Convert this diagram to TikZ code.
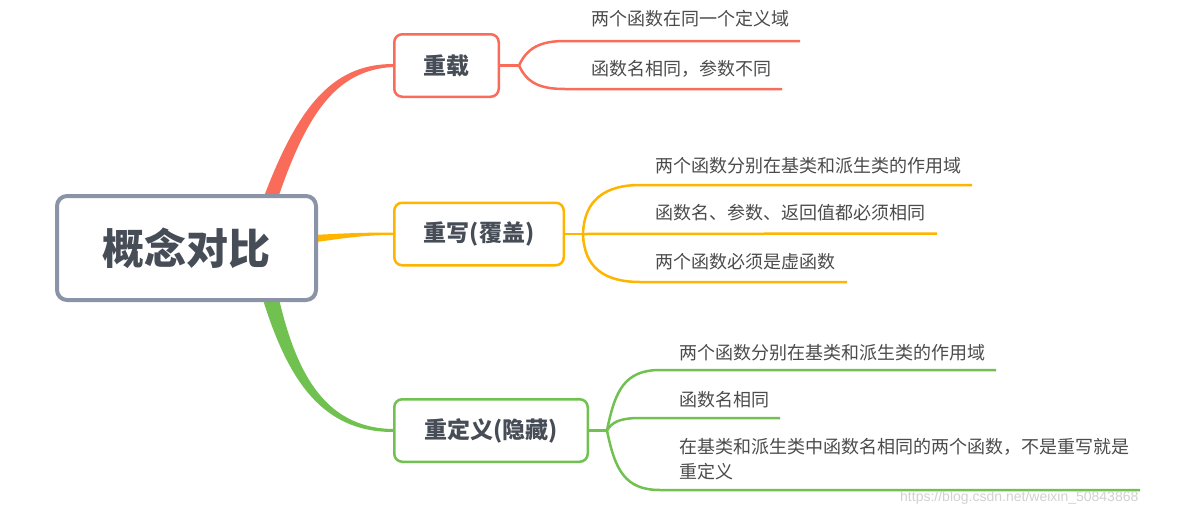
\documentclass[tikz,border=0pt]{standalone}
\usepackage{fontspec}
\setmainfont{Noto Sans CJK SC}
\newfontfamily\urlfont{Liberation Sans}
\usetikzlibrary{positioning}
\definecolor{zaired}{RGB}{250,108,90}
\definecolor{xieyellow}{RGB}{255,180,0}
\definecolor{dingreen}{RGB}{112,193,80}
\definecolor{rootgray}{RGB}{138,148,166}
\definecolor{titlegray}{RGB}{70,77,87}
\definecolor{leafgray}{RGB}{75,75,75}

\begin{document}
\begin{tikzpicture}
[x=1pt,y=-1pt,
root/.style = {draw=rootgray, line width=4pt, rounded corners=10pt, fill=white, minimum width=259pt, minimum height=104pt, text=titlegray, font=\fontsize{42}{48}\selectfont\bfseries},
topic/.style = {draw=#1, line width=2.5pt, rounded corners=8pt, fill=white, minimum height=62.5pt, text=titlegray, font=\fontsize{23}{28}\selectfont\bfseries},
leaf/.style = {anchor=base west, inner sep=0pt, align=left, text=leafgray, font=\fontsize{18}{25}\selectfont},
branch/.style = {draw=#1, line width=2.5pt},]
\useasboundingbox (0,0) rectangle (1180,517);

% main branches
\fill[zaired] (259,210) .. controls (295,110) and (330,64) .. (393,64) -- (393,67) .. controls (335,70) and (305,115) .. (274,210) -- cycle;
\fill[xieyellow] (305,235.5) .. controls (340,233.5) and (360,232.5) .. (393,232.5) -- (393,235) .. controls (360,235) and (340,239) .. (305,243.5) -- cycle;
\fill[dingreen] (260,290) .. controls (285,374) and (318,432) .. (393,432) -- (393,429) .. controls (322,428) and (294,368) .. (277,290) -- cycle;

\node (root) at (186.5,248)[root] {概念对比};
\node (zai) at (446.5,65.5)[topic=zaired, minimum width=104.5pt] {重载};
\node (xie) at (479,234)[topic=xieyellow, minimum width=169.5pt] {重写(覆盖)};
\node (ding) at (491,430.5)[topic=dingreen, minimum width=193.5pt] {重定义(隐藏)};

% 重载
\coordinate (fzai) at (519,65.5);
\node (zai1) at (591,25.5)[leaf] {两个函数在同一个定义域};
\node (zai2) at (591,75.5)[leaf] {函数名相同，参数不同};
\coordinate (zai1e) at (800,41);
\coordinate (zai2e) at (782,89);
\draw[branch=zaired] (zai.east) -- (fzai);
\draw[branch=zaired] (fzai) .. controls (527,48) and (540,41) .. (565,41) -- (zai1e);
\draw[branch=zaired] (fzai) .. controls (527,83) and (540,89) .. (565,89) -- (zai2e);

% 重写
\coordinate (fxie) at (583,234);
\node (xie1) at (655,172.5)[leaf] {两个函数分别在基类和派生类的作用域};
\node (xie2) at (655,219.5)[leaf] {函数名、参数、返回值都必须相同};
\node (xie3) at (655,268.5)[leaf] {两个函数必须是虚函数};
\coordinate (xie1e) at (972,185);
\coordinate (xie2e) at (937,233.5);
\coordinate (xie3e) at (847,282);
\draw[branch=xieyellow] (xie.east) -- (fxie);
\draw[branch=xieyellow] (fxie) .. controls (584,200) and (605,185) .. (640,185) -- (xie1e);
\draw[branch=xieyellow] (fxie) -- (xie2e);
\draw[branch=xieyellow] (fxie) .. controls (584,268) and (605,282) .. (640,282) -- (xie3e);

% 重定义
\coordinate (fding) at (607,430.5);
\node (ding1) at (679,359.5)[leaf] {两个函数分别在基类和派生类的作用域};
\node (ding2) at (679,406.5)[leaf] {函数名相同};
\node (ding3) at (679,478.5)[leaf] {在基类和派生类中函数名相同的两个函数，不是重写就是\\重定义};
\coordinate (ding1e) at (996,370);
\coordinate (ding2e) at (780,418);
\coordinate (ding3e) at (1140,490);
\draw[branch=dingreen] (ding.east) -- (fding);
\draw[branch=dingreen] (fding) .. controls (615,390) and (625,370) .. (660,370) -- (ding1e);
\draw[branch=dingreen] (fding) .. controls (612,422) and (620,418) .. (640,418) -- (ding2e);
\draw[branch=dingreen] (fding) .. controls (615,470) and (625,490) .. (660,490) -- (ding3e);

\node (mark) at (900,498)[anchor=west, inner sep=0pt, text=black!18, font=\urlfont\fontsize{14}{16}\selectfont] {https://blog.csdn.net/weixin\_50843868};
\end{tikzpicture}
\end{document}
